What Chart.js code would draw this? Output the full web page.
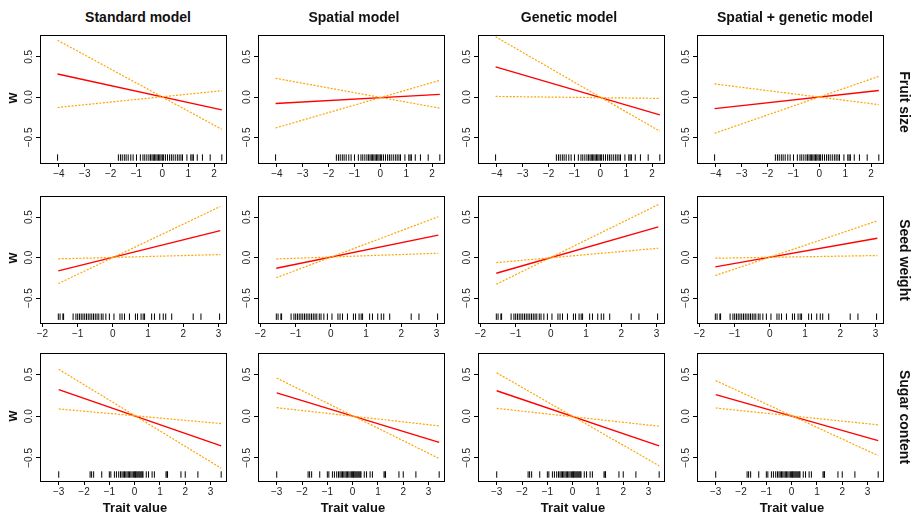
<!DOCTYPE html>
<html>
<head>
<meta charset="utf-8">
<title>Selection gradients</title>
<script src="https://cdn.jsdelivr.net/npm/chart.js@4/dist/chart.umd.min.js"></script>
<style>
  body { margin:0; background:#fff; font-family:"Liberation Sans", Arial, Helvetica, sans-serif; }
  #wrap { position:relative; width:915px; height:515px; overflow:hidden; }
  canvas { position:absolute; }
  .lbl { position:absolute; font-weight:bold; color:#111; white-space:nowrap; transform:translate(-50%,-50%); }
</style>
</head>
<body>
<div id="wrap"></div>
<script>
/* 3 traits x 4 models — fitted w vs trait value, CI in dotted orange, rug of observations */
const MODELS = ['Standard model', 'Spatial model', 'Genetic model', 'Spatial + genetic model'];
const TRAITS = ['Fruit size', 'Seed weight', 'Sugar content'];

const Y_TICKS = [-0.5, 0, 0.5];
const Y_LABELS = ['\u22120.5', '0.0', '0.5'];

// fruit size
const FRUIT_XTICKS = [-4, -3, -2, -1, 0, 1, 2];
const FRUIT_XLIM = [-4.73, 2.5];
const FRUIT_X = [-4.05, 2.3];
const FRUIT_FIT = [[0.286, -0.158], [-0.079, 0.033], [0.375, -0.22], [-0.143, 0.082]];
const FRUIT_CI_HI = [[0.705, -0.40], [0.233, -0.138], [0.747, -0.424], [0.163, -0.094]];
const FRUIT_CI_LO = [[-0.129, 0.079], [-0.383, 0.208], [0.008, -0.016], [-0.449, 0.257]];
const FRUIT_RUG = [-4.05, -1.7, -1.62, -1.55, -1.47, -1.4, -1.32, -1.22, -1.13, -1.0, -0.85, -0.75,
  -0.68, -0.6, -0.52, -0.46, -0.4, -0.35, -0.3, -0.25, -0.2, -0.15, -0.1, -0.05, 0.0, 0.05, 0.12,
  0.2, 0.28, 0.35, 0.42, 0.5, 0.58, 0.65, 0.72, 0.78, 0.95, 1.1, 1.15, 1.2, 1.35, 1.55, 1.85, 2.3];

// seed weight
const SEED_XTICKS = [-2, -1, 0, 1, 2, 3];
const SEED_XLIM = [-2.07, 3.24];
const SEED_X = [-1.55, 3.05];
const SEED_FIT = [[-0.165, 0.333], [-0.132, 0.277], [-0.193, 0.379], [-0.115, 0.239]];
const SEED_CI_HI = [[-0.016, 0.037], [-0.017, 0.054], [-0.062, 0.115], [-0.008, 0.025]];
const SEED_CI_LO = [[-0.321, 0.63], [-0.248, 0.504], [-0.329, 0.654], [-0.222, 0.453]];
const SEED_RUG = [-1.55, -1.5, -1.42, -1.4, -1.13, -1.05, -1.0, -0.95, -0.9, -0.85, -0.8, -0.75,
  -0.7, -0.65, -0.6, -0.55, -0.5, -0.45, -0.4, -0.33, -0.28, -0.2, -0.1, 0.03, 0.2, 0.26, 0.33,
  0.47, 0.64, 0.7, 0.8, 0.86, 0.9, 1.1, 1.18, 1.33, 1.43, 1.5, 1.67, 2.28, 2.5, 3.03];

// sugar content
const SUGAR_XTICKS = [-3, -2, -1, 0, 1, 2, 3];
const SUGAR_XLIM = [-3.74, 3.65];
const SUGAR_X = [-3.0, 3.42];
const SUGAR_FIT = [[0.32, -0.356], [0.281, -0.314], [0.306, -0.355], [0.259, -0.292]];
const SUGAR_CI_HI = [[0.564, -0.624], [0.459, -0.508], [0.521, -0.595], [0.428, -0.473]];
const SUGAR_CI_LO = [[0.088, -0.088], [0.103, -0.116], [0.095, -0.12], [0.099, -0.103]];
const SUGAR_RUG = [-3.0, -1.76, -1.7, -1.62, -1.3, -1.0, -0.94, -0.8, -0.72, -0.63, -0.56, -0.5,
  -0.45, -0.4, -0.35, -0.3, -0.25, -0.2, -0.15, -0.1, -0.05, 0.0, 0.03, 0.06, 0.1, 0.14, 0.18,
  0.22, 0.26, 0.3, 0.33, 0.46, 0.55, 0.69, 0.78, 1.24, 1.28, 1.3, 1.83, 2.0, 2.5, 3.42];

const ROWS = [
  {xt: FRUIT_XTICKS, xlim: FRUIT_XLIM, xs: FRUIT_X, fit: FRUIT_FIT, hi: FRUIT_CI_HI, lo: FRUIT_CI_LO, rug: FRUIT_RUG},
  {xt: SEED_XTICKS, xlim: SEED_XLIM, xs: SEED_X, fit: SEED_FIT, hi: SEED_CI_HI, lo: SEED_CI_LO, rug: SEED_RUG},
  {xt: SUGAR_XTICKS, xlim: SUGAR_XLIM, xs: SUGAR_X, fit: SUGAR_FIT, hi: SUGAR_CI_HI, lo: SUGAR_CI_LO, rug: SUGAR_RUG}
];

// layout (px)
const BOX_LEFT = [40, 258, 478, 697];
const BOX_W = 188;
const BOX_TOP = [35, 196, 353];
const BOX_H = [129, 128, 129];
const Y_LIM = [[-0.83, 0.77], [-0.82, 0.76], [-0.79, 0.76]];
const RUG_Y = [-0.75, -0.73, -0.7];
const PAD_L = 40, PAD_T = 5, PAD_R = 4, X_AX_H = 18;

const FONT = '"Liberation Sans", Arial, Helvetica, sans-serif';
Chart.defaults.font.family = FONT;

const wrap = document.getElementById('wrap');

function fmt(v){
  if (v < 0) return '\u2212' + Math.abs(v);
  return String(v);
}

function addLabel(text, x, y, size, rot){
  const d = document.createElement('div');
  d.className = 'lbl';
  d.textContent = text;
  d.style.left = x + 'px';
  d.style.top = y + 'px';
  d.style.fontSize = size + 'px';
  if (rot) d.style.transform = 'translate(-50%,-50%) rotate(' + rot + 'deg)';
  wrap.appendChild(d);
}

// frame around plot region + rotated y tick labels (R style)
const framePlugin = {
  id: 'frame',
  afterDraw(chart){
    const {ctx, chartArea: a} = chart;
    const ys = chart.scales.y;
    ctx.save();
    ctx.strokeStyle = '#000';
    ctx.lineWidth = 1;
    ctx.strokeRect(Math.round(a.left) + 0.5, Math.round(a.top) + 0.5,
      Math.round(a.right - a.left) - 1, Math.round(a.bottom - a.top) - 1);
    ctx.fillStyle = '#222';
    ctx.font = '10px ' + FONT;
    ctx.textAlign = 'center';
    ctx.textBaseline = 'middle';
    Y_TICKS.forEach((v, i) => {
      ctx.save();
      ctx.translate(a.left - 11, ys.getPixelForValue(v));
      ctx.rotate(-Math.PI / 2);
      ctx.fillText(Y_LABELS[i], 0, 0);
      ctx.restore();
    });
    ctx.restore();
  }
};

function seg(xs, ys){ return [{x: xs[0], y: ys[0]}, {x: xs[1], y: ys[1]}]; }

function makePanel(r, c){
  const d = ROWS[r];
  const cv = document.createElement('canvas');
  const w = PAD_L + BOX_W + PAD_R;
  const h = PAD_T + BOX_H[r] + X_AX_H;
  cv.width = w; cv.height = h;
  cv.style.left = (BOX_LEFT[c] - PAD_L) + 'px';
  cv.style.top = (BOX_TOP[r] - PAD_T) + 'px';
  wrap.appendChild(cv);

  const ciStyle = {type: 'line', borderColor: '#FFA500', borderWidth: 1.2, borderDash: [2, 1.5], pointRadius: 0, tension: 0};
  new Chart(cv, {
    type: 'line',
    data: {
      datasets: [
        Object.assign({data: seg(d.xs, d.hi[c])}, ciStyle),
        Object.assign({data: seg(d.xs, d.lo[c])}, ciStyle),
        {type: 'line', data: seg(d.xs, d.fit[c]), borderColor: '#FF0000', borderWidth: 1.4, pointRadius: 0, tension: 0},
        {type: 'scatter', data: d.rug.map(x => ({x, y: RUG_Y[r]})), pointStyle: 'line', rotation: 90,
         pointRadius: 3.2, borderColor: '#000', borderWidth: 1, showLine: false}
      ]
    },
    options: {
      responsive: false,
      animation: false,
      events: [],
      layout: {padding: {top: PAD_T, right: PAD_R, left: 0, bottom: 0}},
      plugins: {legend: {display: false}, tooltip: {enabled: false}},
      scales: {
        x: {
          type: 'linear', min: d.xlim[0], max: d.xlim[1],
          afterBuildTicks: s => { s.ticks = d.xt.map(v => ({value: v})); },
          afterFit: s => { s.height = X_AX_H; },
          grid: {drawOnChartArea: false, tickLength: 3, color: '#000'},
          border: {display: false},
          ticks: {font: {size: 10}, color: '#222', padding: 1, maxRotation: 0, autoSkip: false, callback: v => fmt(v)}
        },
        y: {
          type: 'linear', min: Y_LIM[r][0], max: Y_LIM[r][1],
          afterBuildTicks: s => { s.ticks = Y_TICKS.map(v => ({value: v})); },
          afterFit: s => { s.width = PAD_L; },
          grid: {drawOnChartArea: false, tickLength: 4, color: '#000'},
          border: {display: false},
          ticks: {display: false}
        }
      }
    },
    plugins: [framePlugin]
  });
}

for (let r = 0; r < 3; r++) for (let c = 0; c < 4; c++) makePanel(r, c);

// titles and axis labels
const TITLE_X = [138, 354, 569, 795];
MODELS.forEach((m, c) => addLabel(m, TITLE_X[c], 17, 14, 0));
const ROW_LABEL_Y = [102, 260, 417];
TRAITS.forEach((t, r) => {
  addLabel(t, 905, ROW_LABEL_Y[r], 14, 90);
  addLabel('w', 12, BOX_TOP[r] + BOX_H[r] / 2 - 2, 14, -90);
});
BOX_LEFT.forEach(l => addLabel('Trait value', l + BOX_W / 2 + 1, 507, 13, 0));
</script>
</body>
</html>
